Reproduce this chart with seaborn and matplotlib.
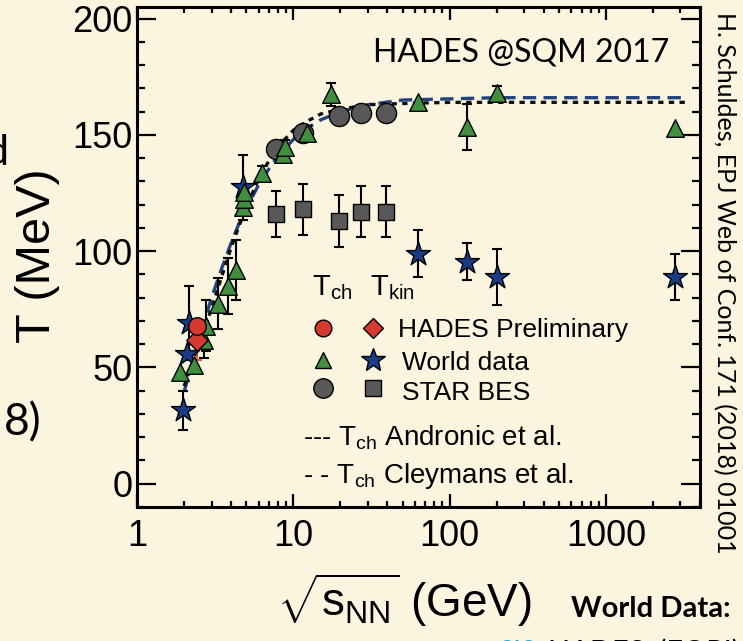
import matplotlib
matplotlib.use("Agg")
import matplotlib.pyplot as plt
import seaborn as sns
from matplotlib.ticker import FixedLocator, FixedFormatter, LogLocator, MultipleLocator, NullFormatter

# ---- chemical freeze-out, world data (triangles) ----
tch_world_sqrts = [1.88, 2.32, 2.70, 2.75, 3.30, 3.80, 4.30, 4.80, 4.82, 4.85, 6.30, 8.60, 8.80, 12.3, 17.3, 62.4, 130, 200, 2760]
tch_world_T     = [48, 51, 62, 68, 77.5, 85, 92, 119, 122.5, 125.5, 133.5, 142, 145, 151, 167.5, 164, 153.5, 168, 153]
tch_world_err   = [0, 0, 8, 11, 11, 12, 13, 0, 0, 0, 3, 2, 3, 3, 5, 0, 10, 3, 0]

# ---- kinetic freeze-out, world data (stars) ----
tkin_world_sqrts = [1.97, 2.10, 2.15, 4.80, 62.4, 130, 200, 2760]
tkin_world_T     = [31.5, 56, 69, 127.5, 99, 95.5, 89, 89]
tkin_world_err   = [8.5, 0, 16, 14, 10, 8, 12, 10]

# ---- HADES preliminary (Au+Au 2.42 GeV) ----
hades_sqrts = [2.42]
hades_tch   = [68]
hades_tkin  = [62]
hades_tkin_err = [9]

# ---- STAR beam energy scan ----
star_sqrts    = [7.7, 11.5, 19.6, 27, 39]
star_tch      = [144, 151, 158, 159.5, 159.5]
star_tkin     = [116, 118, 113, 117, 117]
star_tkin_err = [10, 11, 11, 11, 11]

# ---- freeze-out curves ----
curve_sqrts = [2.0, 2.5, 3.0, 3.5, 4.0, 4.5, 5.0, 6.0, 7.0, 8.0, 10, 12, 15, 20, 30, 50, 100, 200, 500, 1000, 3200]
andronic_T  = [42, 59.5, 75.5, 89.5, 101.5, 111, 119, 131, 139, 145, 152, 155.5, 159, 161, 163, 163.5, 164, 164, 164, 164, 164]
cleymans_T  = [39.5, 62.5, 80, 93, 103.5, 112, 118.5, 128.5, 135.5, 141, 148, 152.5, 156.5, 160, 163, 165, 165.5, 166, 166, 166, 166]

x_ticks = [1, 10, 100, 1000]
x_tick_labels = ["1", "10", "100", "1000"]
y_ticks = [0, 50, 100, 150, 200]

BG = "#fbf4de"
RED = "#d63a2f"
GREEN = "#3f8f3f"
BLUE = "#1c3d85"
GRAY = "#585858"

sns.set_theme(style="ticks")
plt.rcParams["font.family"] = ["Liberation Sans", "DejaVu Sans"]
plt.rcParams["text.color"] = "black"
plt.rcParams["axes.labelcolor"] = "black"
plt.rcParams["xtick.color"] = "black"
plt.rcParams["ytick.color"] = "black"
plt.rcParams["mathtext.fontset"] = "custom"
plt.rcParams["mathtext.rm"] = "Liberation Sans"
plt.rcParams["mathtext.it"] = "Liberation Sans:italic"
plt.rcParams["mathtext.bf"] = "Liberation Sans:bold"

W, H = 743, 641
fig = plt.figure(figsize=(W / 100, H / 100), dpi=100, facecolor=BG)
L, R, T, B = 137, 700, 7, 507
ax = fig.add_axes([L / W, 1 - B / H, (R - L) / W, (B - T) / H], facecolor=BG)
ax.set_xscale("log")


def fx(px):
    return px / W


def fy(py):
    return 1 - py / H


def axf(px, py):
    return (px - L) / (R - L), (B - py) / (B - T)


# model curves
sns.lineplot(x=curve_sqrts, y=cleymans_T, ax=ax, color="#23437e", lw=2.4,
             linestyle=(0, (4, 2.2)), zorder=2)
sns.lineplot(x=curve_sqrts, y=andronic_T, ax=ax, color="#111111", lw=2.4,
             linestyle=(0, (1.6, 1.6)), zorder=2)


def bars(xs, ys, errs, color="black", lw=1.5):
    sel = [(x, y, e) for x, y, e in zip(xs, ys, errs) if e > 0]
    if sel:
        xx, yy, ee = zip(*sel)
        ax.errorbar(xx, yy, yerr=ee, fmt="none", ecolor=color, elinewidth=lw,
                    capsize=3.8, capthick=lw, zorder=3)


bars(tch_world_sqrts, tch_world_T, tch_world_err)
bars(tkin_world_sqrts, tkin_world_T, tkin_world_err)
bars(star_sqrts, star_tkin, star_tkin_err)
bars(hades_sqrts, hades_tkin, hades_tkin_err, color=RED, lw=1.2)

mk = dict(edgecolor="black", linewidth=1.0, ax=ax, zorder=4, legend=False)
sns.scatterplot(x=star_sqrts, y=star_tkin, marker="s", s=135, color=GRAY, **mk)
sns.scatterplot(x=star_sqrts, y=star_tch, marker="o", s=210, color=GRAY, **mk)
sns.scatterplot(x=tkin_world_sqrts, y=tkin_world_T, marker="*", s=330, color=BLUE, **mk)
sns.scatterplot(x=tch_world_sqrts, y=tch_world_T, marker="^", s=160, color=GREEN, **mk)
sns.scatterplot(x=hades_sqrts, y=hades_tkin, marker="D", s=120, color=RED, **mk)
sns.scatterplot(x=hades_sqrts, y=hades_tch, marker="o", s=160, color=RED, **mk)

# axes, ticks
ax.set_xlim(1, 4000)
ax.set_ylim(-10, 205)
ax.xaxis.set_major_locator(FixedLocator(x_ticks))
ax.xaxis.set_major_formatter(FixedFormatter(x_tick_labels))
ax.xaxis.set_minor_locator(LogLocator(base=10, subs=range(2, 10), numticks=20))
ax.xaxis.set_minor_formatter(NullFormatter())
ax.yaxis.set_major_locator(FixedLocator(y_ticks))
ax.yaxis.set_minor_locator(MultipleLocator(10))
ax.set_xlabel("")
ax.set_ylabel("")
for s in ax.spines.values():
    s.set_linewidth(2.2)
    s.set_color("black")
ax.tick_params(axis="both", which="both", direction="in", top=True, right=True,
               color="black", width=1.6, labelsize=26, labelcolor="black")
ax.tick_params(axis="y", which="major", length=14, pad=3)
ax.tick_params(axis="y", which="minor", length=6)
ax.tick_params(axis="x", which="major", length=9.5, pad=9)
ax.tick_params(axis="x", which="minor", length=4.5)

# axis titles
fig.text(fx(38), fy(256), "T (MeV)", rotation=90, ha="center", va="center", fontsize=35)
fig.text(fx(404), fy(617), r"$\sqrt{\mathrm{s}_{\mathrm{NN}}}$ (GeV)", ha="center",
         va="baseline", fontsize=33)

# legend
ax.text(*axf(312, 295), r"T$_{\mathrm{ch}}$", transform=ax.transAxes, fontsize=21, va="baseline")
ax.text(*axf(370, 295), r"T$_{\mathrm{kin}}$", transform=ax.transAxes, fontsize=21, va="baseline")
legend_rows = [
    (328, "o", RED, 12, "D", RED, 10, "HADES Preliminary", 398, 337),
    (360, "^", GREEN, 12, "*", BLUE, 18, "World data", 402, 370),
    (388, "o", GRAY, 14, "s", GRAY, 11, "STAR BES", 402, 400),
]
for py, m1, c1, s1, m2, c2, s2, label, tx, ty in legend_rows:
    ax.plot(*axf(323, py), marker=m1, ms=s1, color=c1, mec="black", mew=1.0,
            transform=ax.transAxes, clip_on=False, zorder=5)
    ax.plot(*axf(373, py), marker=m2, ms=s2, color=c2, mec="black", mew=1.0,
            transform=ax.transAxes, clip_on=False, zorder=5)
    ax.text(*axf(tx, ty), label, transform=ax.transAxes, fontsize=19, va="baseline")
ax.text(*axf(303, 445), r"--- T$_{\mathrm{ch}}$ Andronic et al.", transform=ax.transAxes,
        fontsize=20, va="baseline")
ax.text(*axf(303, 483), r"- - T$_{\mathrm{ch}}$ Cleymans et al.", transform=ax.transAxes,
        fontsize=20, va="baseline")

# slide annotations
fig.text(fx(373), fy(62), "HADES @SQM 2017", family="Lato", fontsize=23, va="baseline")
fig.text(fx(724), fy(283), "H. Schuldes, EPJ Web of Conf. 171 (2018) 01001", family="Lato",
         fontsize=18, rotation=-90, ha="center", va="center")
fig.text(fx(571), fy(617), "World Data:", family="Lato", weight="bold", fontsize=21, va="baseline")
fig.text(fx(498), fy(661), "SIS", family="Lato", style="italic", color="#1aa7ec", fontsize=21,
         va="baseline")
fig.text(fx(548), fy(661), "HADES, (FOPI)", family="Lato", fontsize=21, va="baseline")
fig.text(fx(8), fy(165), "d", family="Lato", fontsize=31, ha="right", va="baseline")
fig.text(fx(41), fy(435), "8)", family="Lato", fontsize=32, ha="right", va="baseline")

fig.savefig("out.png", dpi=100, facecolor=BG)
